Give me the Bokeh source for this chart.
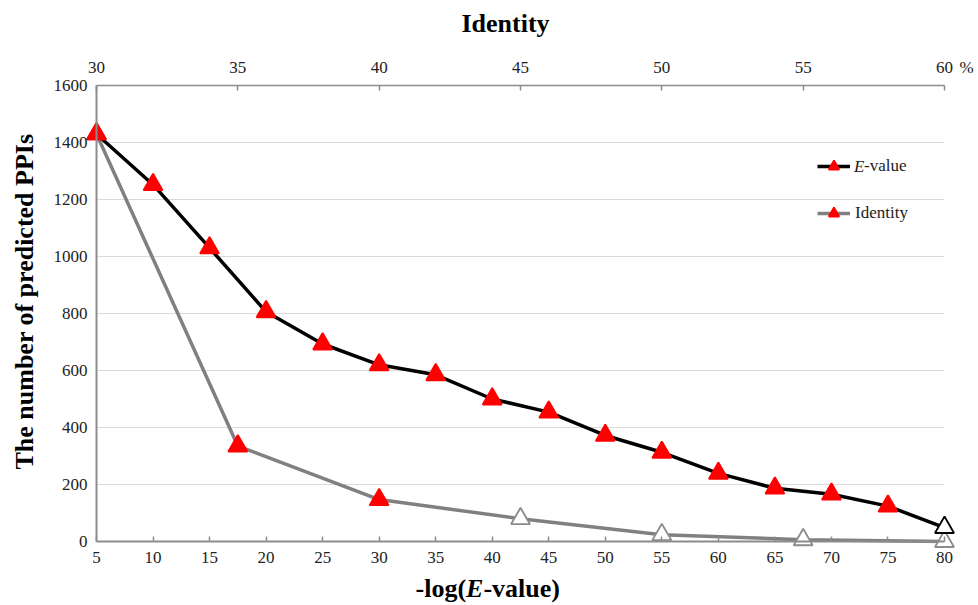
import math
from bokeh.plotting import figure
from bokeh.models import (Range1d, LinearAxis, FixedTicker, Label, Legend,
                          LegendItem, ColumnDataSource)
from bokeh.embed import file_html
from bokeh.resources import INLINE

# ---------------- data ----------------
x_ticks = [5, 10, 15, 20, 25, 30, 35, 40, 45, 50, 55, 60, 65, 70, 75, 80]
ident_ticks = [30, 35, 40, 45, 50, 55, 60]
y_ticks = [0, 200, 400, 600, 800, 1000, 1200, 1400, 1600]

evalue_x = [5, 10, 15, 20, 25, 30, 35, 40, 45, 50, 55, 60, 65, 70, 75, 80]
evalue_counts = [1430, 1252, 1030, 806, 693, 620, 585, 500, 454, 372, 313, 239, 187, 166, 124, 49]

identity_pct = [30, 35, 40, 45, 50, 55, 60]
identity_counts = [1430, 335, 147, 80, 24, 6, 0]

# per-point marker styles (filled red vs open)
evalue_fill = ["#ff0000"] * 15 + ["white"]
evalue_edge = ["#ff0000"] * 15 + ["black"]
identity_fill = ["#ff0000"] * 3 + ["white"] * 4
identity_edge = ["#ff0000"] * 3 + ["#8c8c8c"] * 4

# ---------------- geometry (canvas pixels) ----------------
W, H = 978, 605
PX_X5 = 96.0          # canvas x of x=5
SX = 848.0 / 75.0     # px per x unit
PX_Y0 = 541.0         # canvas y of y=0
SY = 456.0 / 1600.0   # px per y unit
MID = 0.3375          # baseline -> middle of text box, in em

def dx(px):
    return x_ticks[0] + (px - PX_X5) / SX

def dy(py):
    return (PX_Y0 - py) / SY

# frame covers the whole canvas; axes are drawn at fixed data locations
xs, xe = dx(0), dx(W)
ys, ye = dy(H), dy(0)

ratio = (ident_ticks[-1] - ident_ticks[0]) / (x_ticks[-1] - x_ticks[0])
ident_s = ident_ticks[0] + (xs - x_ticks[0]) * ratio
ident_e = ident_ticks[0] + (xe - x_ticks[0]) * ratio

FONT = "Liberation Serif"
AXIS_GREY = "#8c8c8c"
TXT = "#222222"

p = figure(width=W, height=H, x_range=Range1d(xs, xe), y_range=Range1d(ys, ye),
           x_axis_type=None, y_axis_type=None, output_backend="svg",
           toolbar_location=None, min_border=0, min_border_left=0, min_border_right=0,
           min_border_top=0, min_border_bottom=0)
p.outline_line_color = None
p.background_fill_color = "white"
p.border_fill_color = "white"
p.extra_x_ranges = {"ident": Range1d(ident_s, ident_e)}

# gridlines
grid_y = y_ticks[1:-1]
p.segment(x0=[x_ticks[0]] * len(grid_y), x1=[x_ticks[-1]] * len(grid_y),
          y0=grid_y, y1=grid_y, line_color="#dadada", line_width=1)

def style_axis(ax, line_w, tick_in, standoff):
    ax.axis_line_color = AXIS_GREY
    ax.axis_line_width = line_w
    ax.major_tick_line_color = AXIS_GREY if tick_in else None
    ax.major_tick_line_width = 1.5
    ax.major_tick_in = tick_in
    ax.major_tick_out = 0
    ax.minor_tick_line_color = None
    ax.major_label_standoff = standoff
    ax.major_label_text_font = FONT
    ax.major_label_text_font_size = "17px"
    ax.major_label_text_color = TXT

bottom = LinearAxis(ticker=FixedTicker(ticks=x_ticks), bounds=(x_ticks[0], x_ticks[-1]),
                    fixed_location=y_ticks[0])
style_axis(bottom, 2, 5, 10)
p.add_layout(bottom, "below")

left = LinearAxis(ticker=FixedTicker(ticks=y_ticks), bounds=(y_ticks[0], y_ticks[-1]),
                  fixed_location=x_ticks[0])
style_axis(left, 2, 0, 9)
p.add_layout(left, "left")

top = LinearAxis(x_range_name="ident", ticker=FixedTicker(ticks=ident_ticks),
                 bounds=(ident_ticks[0], ident_ticks[-1]), fixed_location=y_ticks[-1])
style_axis(top, 1.5, 5, 13)
p.add_layout(top, "above")

# series
src_e = ColumnDataSource(dict(x=evalue_x, y=evalue_counts, fill=evalue_fill, edge=evalue_edge))
src_i = ColumnDataSource(dict(x=identity_pct, y=identity_counts, fill=identity_fill, edge=identity_edge))

line_i = p.line("x", "y", source=src_i, x_range_name="ident", line_color="#808080", line_width=3.5)
line_e = p.line("x", "y", source=src_e, line_color="black", line_width=3.5)
sc_i = p.scatter("x", "y", source=src_i, x_range_name="ident", marker="triangle", size=19,
                 fill_color="fill", line_color="edge", line_width=1.8)
sc_e = p.scatter("x", "y", source=src_e, marker="triangle", size=19,
                 fill_color="fill", line_color="edge", line_width=1.8)

# legends (frame == canvas, location measured from bottom-left)
def legend_at(item, px_left, py_center, standoff):
    lg = Legend(items=[item], location=(px_left, H - (py_center + 13)),
                glyph_width=33, glyph_height=26, label_height=26, label_standoff=standoff,
                padding=0, spacing=0, margin=0, border_line_color=None,
                background_fill_alpha=0, label_text_font=FONT,
                label_text_font_size="17px", label_text_color=TXT)
    p.add_layout(lg, "center")

legend_at(LegendItem(label="-value", renderers=[line_e, sc_e], index=0), 817, 166, 14)
legend_at(LegendItem(label="Identity", renderers=[line_i, sc_i], index=0), 817, 213, 5)

p.add_layout(Label(x=dx(853.5), y=dy(166), text="E", text_font=FONT, text_font_size="17px",
                   text_font_style="italic", text_color=TXT, text_baseline="middle",
                   text_align="left"))

# titles (positions given by baseline, converted to text-box middle)
FS = 26
p.add_layout(Label(x=dx(505), y=dy(32 - MID * FS), text="Identity", text_font=FONT,
                   text_font_size="26px", text_font_style="bold", text_color="black",
                   text_align="center", text_baseline="middle"))

p.add_layout(Label(x=dx(33 - MID * FS), y=dy(301), text="The number of predicted PPIs",
                   text_font=FONT, text_font_size="26px", text_font_style="bold",
                   text_color="black", text_align="center", text_baseline="middle",
                   angle=math.pi / 2))

BASE = 597
y_mid = dy(BASE - MID * FS)
x_log = 415
p.add_layout(Label(x=dx(x_log), y=y_mid, text="-log(", text_font=FONT, text_font_size="26px",
                   text_font_style="bold", text_color="black", text_align="left",
                   text_baseline="middle"))
x_E = x_log + 1.944 * FS
p.add_layout(Label(x=dx(x_E), y=y_mid, text="E", text_font=FONT, text_font_size="26px",
                   text_font_style="bold italic", text_color="black", text_align="left",
                   text_baseline="middle"))
x_rest = x_E + 0.667 * FS
p.add_layout(Label(x=dx(x_rest), y=y_mid, text="-value)", text_font=FONT, text_font_size="26px",
                   text_font_style="bold", text_color="black", text_align="left",
                   text_baseline="middle"))

# percent sign after the last top tick label
p.add_layout(Label(x=dx(959), y=dy(73 - MID * 17), text="%", text_font=FONT,
                   text_font_size="17px", text_color=TXT, text_align="left",
                   text_baseline="middle"))

open("out.html", "w").write(file_html(p, INLINE))
